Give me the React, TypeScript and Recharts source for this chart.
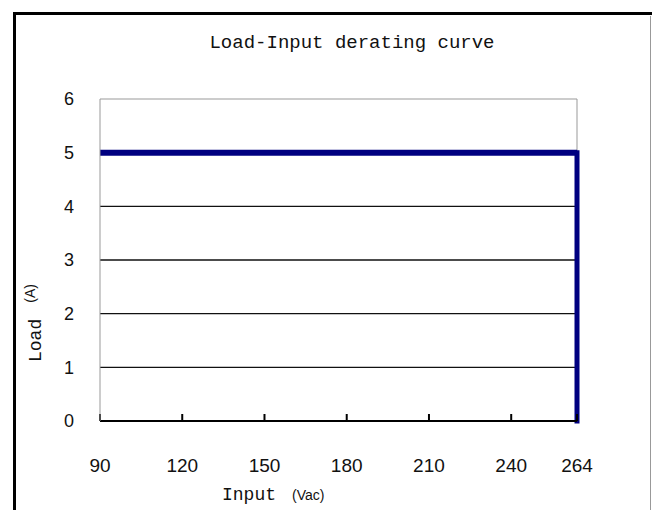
import React from 'react';
import { LineChart, Line, XAxis, YAxis, ReferenceLine, Label } from 'recharts';

const inputTicks = [90, 120, 150, 180, 210, 240, 264];
const loadTicks = [0, 1, 2, 3, 4, 5, 6];
const gridLoads = [1, 2, 3, 4];
const ratedLoad = [
  { input: 90, load: 5 },
  { input: 264, load: 5 },
];
const cutoff = [
  { input: 264, load: 5 },
  { input: 264, load: 0 },
];
const titleText = 'Load-Input derating curve';
const xTitle = 'Input';
const xUnit = '(Vac)';
const yTitle = 'Load';
const yUnit = '(A)';

const MONO = '"Liberation Mono", "DejaVu Sans Mono", monospace';
const SANS = '"Liberation Sans", Arial, sans-serif';
const NAVY = '#000080';

const XTitle = () => (
  <text x={222} y={500} fill="#111">
    <tspan fontFamily={MONO} fontSize={18}>{xTitle}</tspan>
    <tspan x={292} fontFamily={SANS} fontSize={14}>{xUnit}</tspan>
  </text>
);

const YTitle = () => (
  <text transform="translate(41,362) rotate(-90)" fill="#111">
    <tspan fontFamily={MONO} fontSize={18}>{yTitle}</tspan>
    <tspan dx={16} dy={-6} fontFamily={SANS} fontSize={14}>{yUnit}</tspan>
  </text>
);

export default function App() {
  return (
    <div style={{ position: 'absolute', left: 0, top: 0, width: 652, height: 510, overflow: 'hidden', background: '#fff' }}>
      <div style={{ position: 'absolute', left: 13, top: 12, width: 660, height: 600, borderLeft: '3px solid #000', borderTop: '3px solid #000' }} />
      <div style={{ position: 'absolute', left: 650, top: 16, width: 1, height: 600, background: '#999' }} />
      <div style={{ position: 'absolute', left: 0, top: 0 }}>
        <LineChart width={652} height={510} margin={{ top: 99, right: 75, bottom: 49, left: 0 }}>
          <text x={352} y={48} textAnchor="middle" fontFamily={MONO} fontSize={19} fill="#111">{titleText}</text>
          <XAxis
            dataKey="input"
            type="number"
            domain={[90, 264]}
            ticks={inputTicks}
            interval={0}
            height={40}
            stroke="#000"
            strokeWidth={2}
            tickSize={-7}
            tickMargin={45}
            tick={{ fill: '#111', fontSize: 19, fontFamily: SANS }}
          >
            <Label content={XTitle} />
          </XAxis>
          <YAxis
            dataKey="load"
            type="number"
            domain={[0, 6]}
            ticks={loadTicks}
            interval={0}
            width={100}
            stroke="#999"
            tickLine={false}
            tickSize={0}
            tickMargin={26}
            tick={{ fill: '#111', fontSize: 18, fontFamily: SANS }}
          >
            <Label content={YTitle} />
          </YAxis>
          <ReferenceLine y={6} stroke="#999" strokeWidth={1} />
          <ReferenceLine segment={[{ x: 264, y: 5 }, { x: 264, y: 6 }]} stroke="#999" strokeWidth={1} />
          {gridLoads.map((v) => (
            <ReferenceLine key={v} y={v} stroke="#111" strokeWidth={1.3} />
          ))}
          <Line data={ratedLoad} dataKey="load" type="linear" stroke={NAVY} strokeWidth={6} dot={false} activeDot={false} isAnimationActive={false} />
          <Line data={cutoff} dataKey="load" type="linear" stroke={NAVY} strokeWidth={5} strokeLinecap="square" dot={false} activeDot={false} isAnimationActive={false} />
        </LineChart>
      </div>
    </div>
  );
}
